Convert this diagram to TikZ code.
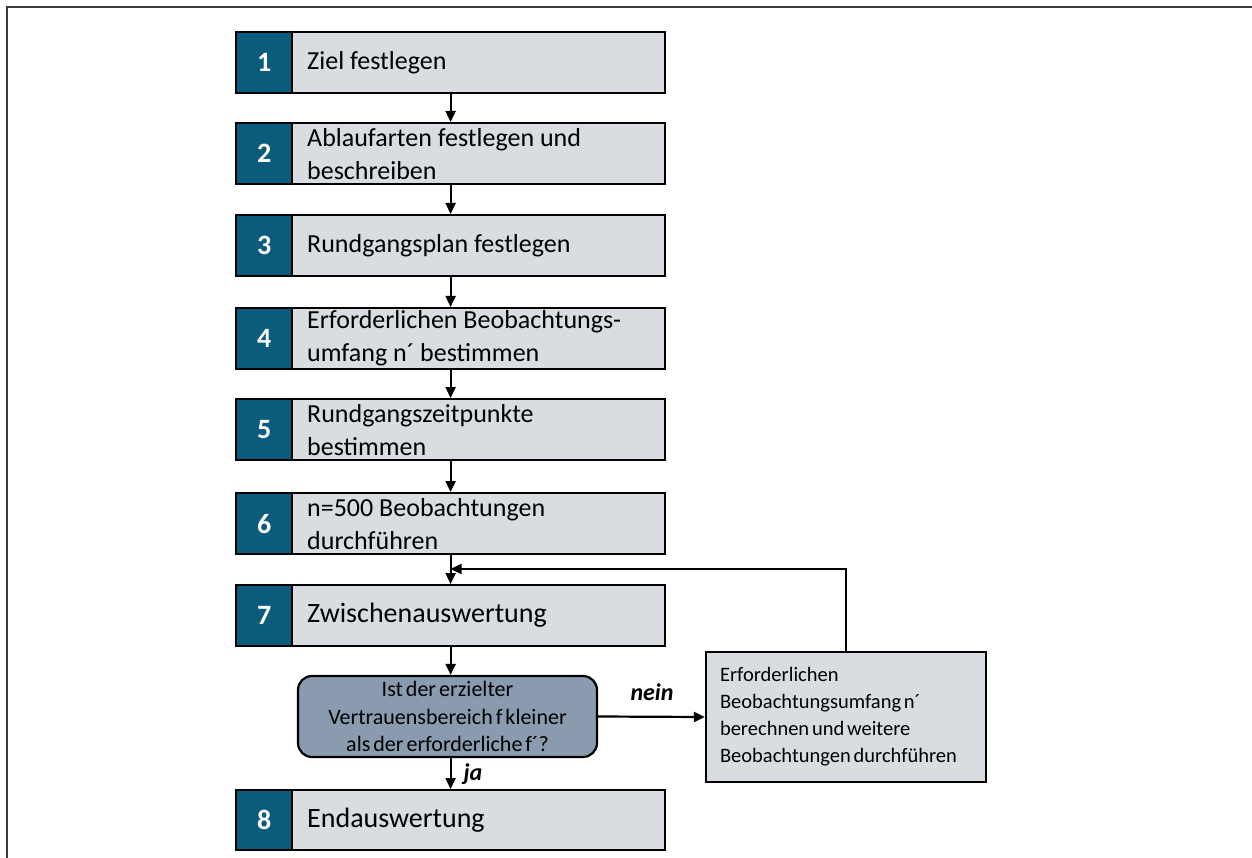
\documentclass[tikz,border=0pt]{standalone}
\usepackage{fontspec}
\setmainfont{Carlito}
\newfontfamily\tightsp{Carlito}[WordSpace=0.6]
\usetikzlibrary{arrows.meta,calc}
\definecolor{boxgray}{HTML}{D9DDE2}
\definecolor{numteal}{HTML}{0B5B7C}
\definecolor{decfill}{HTML}{8A9BAF}
\definecolor{framegray}{HTML}{3A3A3A}
\tikzset{
  stepbox/.style={draw=black, line width=2.2pt, fill=boxgray, minimum width=429pt, minimum height=61pt, inner sep=0pt, anchor=north west},
  numbox/.style={draw=black, line width=2.2pt, fill=numteal, minimum width=56pt, inner sep=0pt, anchor=west, text=white, font=\fontsize{28}{32}\selectfont\bfseries},
  steptext/.style={anchor=west, align=left, inner sep=0pt, font=\fontsize{26}{33}\selectfont},
  bigtext/.style={anchor=west, align=left, inner sep=0pt, font=\fontsize{28}{33}\selectfont},
  decbox/.style={draw=black, line width=2.2pt, fill=decfill, rounded corners=14pt, minimum width=299pt, minimum height=81pt, inner sep=0pt, align=center, font=\tightsp\fontsize{22}{27.5}\selectfont},
  sidebox/.style={draw=black, line width=2.2pt, fill=boxgray, minimum width=280pt, minimum height=130pt, inner sep=0pt, text width=252pt, align=flush left, font=\tightsp\fontsize{20.5}{27}\selectfont},
  arr/.style={line width=2.2pt, -{Triangle[length=11pt,width=10pt]}},
  lbl/.style={inner sep=0pt, font=\fontsize{24}{28}\selectfont\bfseries\itshape},
}
\begin{document}
\begin{tikzpicture}[x=1pt,y=-1pt]
\useasboundingbox (0,0) rectangle (1252,858);
\draw[framegray, line width=2.4pt] (7,858) -- (7,7) -- (1252,7);

% step boxes
\node[stepbox] (s1) at (235,31) {};
\node[stepbox] (s2) at (235,122) {};
\node[stepbox] (s3) at (235,214) {};
\node[stepbox] (s4) at (235,307) {};
\node[stepbox] (s5) at (235,398) {};
\node[stepbox] (s6) at (235,492) {};
\node[stepbox] (s7) at (235,584) {};
\node[stepbox, minimum height=60pt] (s8) at (235,789) {};

% number squares
\node[numbox, minimum height=61pt] (n1) at (s1.west) {1};
\node[numbox, minimum height=61pt] (n2) at (s2.west) {2};
\node[numbox, minimum height=61pt] (n3) at (s3.west) {3};
\node[numbox, minimum height=61pt] (n4) at (s4.west) {4};
\node[numbox, minimum height=61pt] (n5) at (s5.west) {5};
\node[numbox, minimum height=61pt] (n6) at (s6.west) {6};
\node[numbox, minimum height=61pt] (n7) at (s7.west) {7};
\node[numbox, minimum height=60pt] (n8) at (s8.west) {8};

% texts
\node[steptext] (t1) at ([xshift=72pt]s1.west) {Ziel festlegen};
\node[steptext] (t2) at ([xshift=72pt]s2.west) {Ablaufarten festlegen und\\beschreiben};
\node[steptext] (t3) at ([xshift=72pt]s3.west) {Rundgangsplan festlegen};
\node[steptext] (t4) at ([xshift=72pt]s4.west) {Erforderlichen Beobachtungs-\\umfang n´ bestimmen};
\node[steptext] (t5) at ([xshift=72pt]s5.west) {Rundgangszeitpunkte\\bestimmen};
\node[steptext] (t6) at ([xshift=72pt]s6.west) {n=500 Beobachtungen\\durchführen};
\node[bigtext] (t7) at ([xshift=72pt]s7.west) {Zwischenauswertung};
\node[bigtext] (t8) at ([xshift=72pt]s8.west) {Endauswertung};

% decision and side box
\node[decbox] (dec) at (447.5,716.5) {Ist der erzielter\\Vertrauensbereich f kleiner\\als der erforderliche f´?};
\node[sidebox] (rb) at (846,717) {Erforderlichen\\Beobachtungsumfang n´\\berechnen und weitere\\Beobachtungen durchführen};

% connectors
\draw[arr] (s1.south) -- (s2.north);
\draw[arr] (s2.south) -- (s3.north);
\draw[arr] (s3.south) -- (s4.north);
\draw[arr] (s4.south) -- (s5.north);
\draw[arr] (s5.south) -- (s6.north);
\draw[arr] (s6.south) -- (s7.north);
\coordinate (j) at (450.5,569);
\draw[arr] (rb.north) |- (j);
\draw[arr] (s7.south) -- (s7.south |- dec.north);
\draw[arr] (s8.north |- dec.south) -- (s8.north);
\draw[arr] (dec.east) -- (rb.west);

% labels
\node[lbl] (nein) at (652,692) {nein};
\node[lbl] (ja) at (473,774) {ja};
\end{tikzpicture}
\end{document}
